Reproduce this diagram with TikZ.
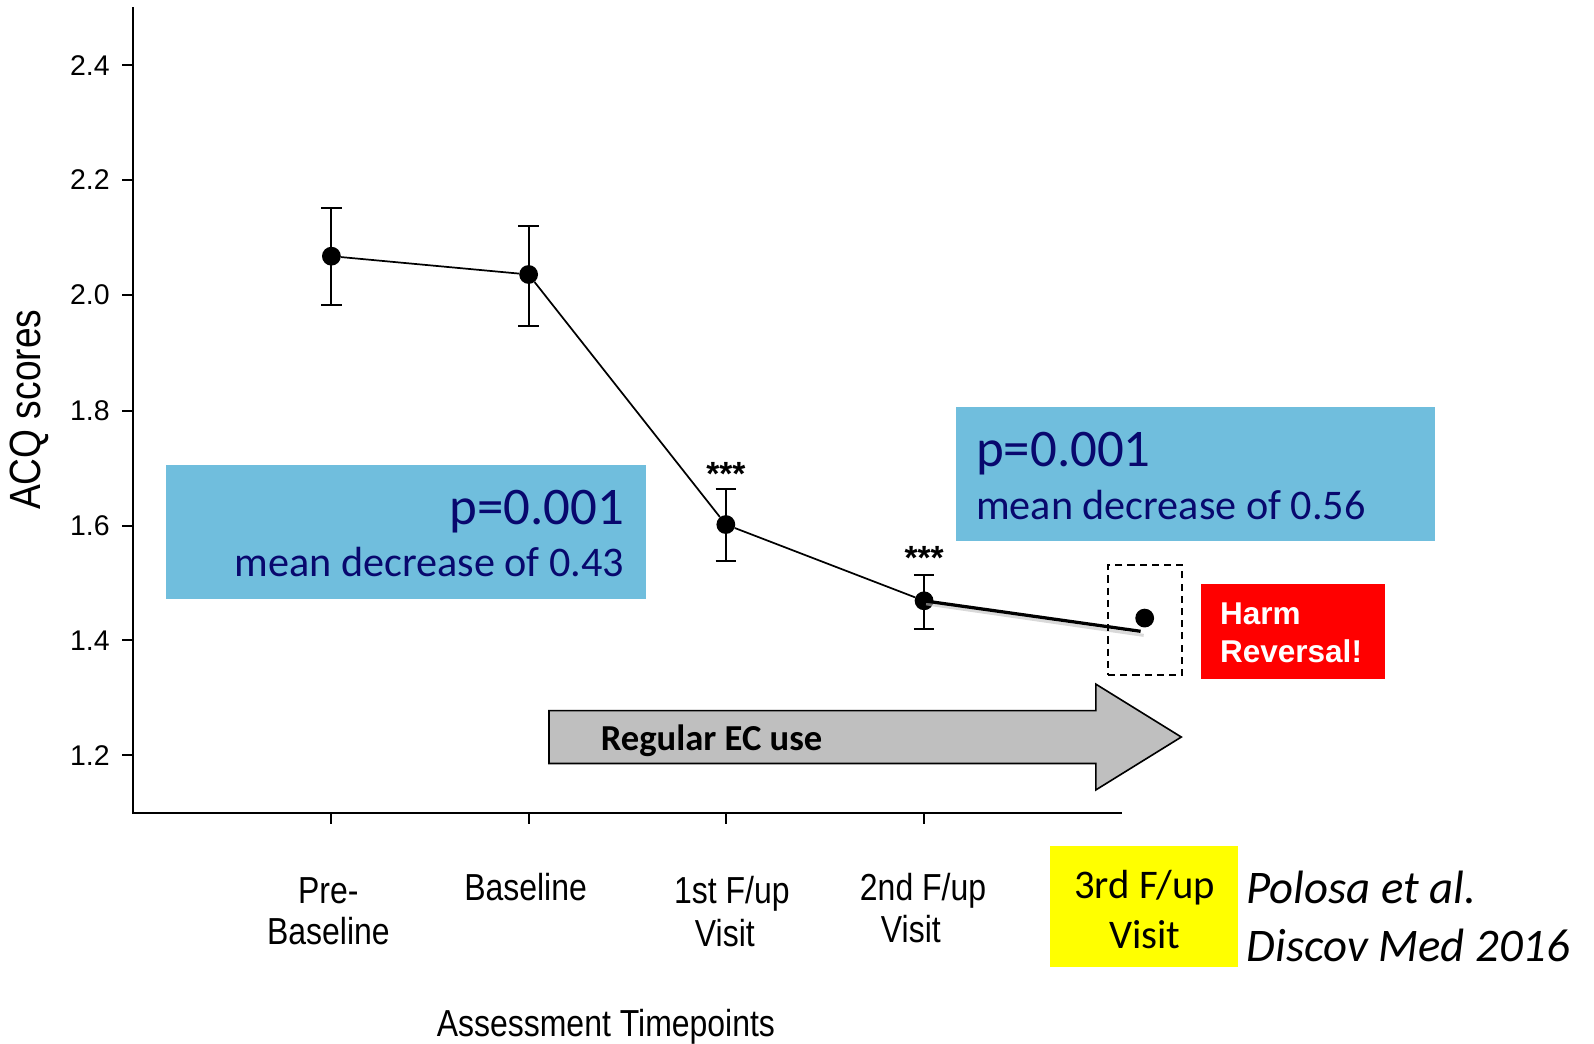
\documentclass[tikz,border=0pt]{standalone}
\usepackage{fontspec}
\setmainfont{Liberation Sans}
\newfontfamily\narrowf[FakeStretch=0.85]{Liberation Sans}
\newfontfamily\calib{Carlito}
\usetikzlibrary{calc}
\definecolor{boxblue}{RGB}{112,190,221}
\definecolor{navytext}{RGB}{8,8,110}
\definecolor{arrowgray}{RGB}{191,191,191}
\definecolor{hlyellow}{RGB}{255,255,0}
\definecolor{harmred}{RGB}{255,0,0}
\begin{document}
\begin{tikzpicture}[x=1pt,y=-1pt,
  axisline/.style={line width=2pt, line cap=rect},
  errbar/.style={line width=1.8pt},
  dataline/.style={line width=1.7pt},
  datapt/.style={circle, fill=black, inner sep=0pt, minimum size=18.5pt},
  ticklab/.style={font=\fontsize{28}{30}\selectfont, inner sep=0pt, anchor=east},
  xlab/.style={font=\narrowf\fontsize{37}{40}\selectfont, inner sep=0pt, anchor=base},
  stars/.style={font=\bfseries\fontsize{33}{35}\selectfont, inner sep=0pt, anchor=base},
  bigp/.style={font=\calib\fontsize{52}{56}\selectfont, text=navytext, inner sep=0pt},
  meanlab/.style={font=\calib\fontsize{41.5}{44}\selectfont, text=navytext, inner sep=0pt},
  harmlab/.style={font=\bfseries\fontsize{31}{34}\selectfont, text=white, inner sep=0pt, anchor=base west},
]
\useasboundingbox (0,0) rectangle (1568,1026);

% coloured boxes
\fill[boxblue] (163,457) rectangle (635,589);
\fill[boxblue] (940,400) rectangle (1412,532);
\fill[hlyellow] (1033,832) rectangle (1218,951);
\fill[harmred] (1181,574) rectangle (1362,668);

% axes
\draw[axisline] (131,8) -- (131,800) -- (1103,800);
\foreach \y/\v [count=\i] in {64/2.4,177/2.2,290/2.0,404/1.8,517/1.6,630/1.4,743/1.2} {
  \draw[axisline] (121,\y) -- (131,\y);
  \node[ticklab] (tk\i) at (108,\y) {\v};
}
\foreach \x [count=\i] in {326,520,714,909} {
  \draw[axisline] (\x,800) -- (\x,810);
}

% error bars
\foreach \x/\a/\b in {326/205/300, 520/222/321, 714/481/552, 909/566/619} {
  \draw[errbar] (\x,\a) -- (\x,\b);
  \draw[errbar] (\x-10,\a) -- (\x+10,\a);
  \draw[errbar] (\x-10,\b) -- (\x+10,\b);
}

% data points
\node[datapt] (p1) at (326,252) {};
\node[datapt] (p2) at (520,270) {};
\node[datapt] (p3) at (714,516) {};
\node[datapt] (p4) at (909,591) {};
\node[datapt] (p5) at (1126,608) {};
\draw[dataline] (p1) -- (p2) -- (p3) -- (p4);
\coordinate (pend) at (1122,621);
\draw[line width=3pt, black!25, opacity=0.6] ($(p4.center)+(2,3)$) -- ($(pend)+(3,4)$);
\draw[line width=3.2pt] (p4.center) -- (pend);

% dashed box
\node[draw, dashed, dash pattern=on 7pt off 5pt, line width=1.6pt, minimum width=73pt, minimum height=108pt, inner sep=0pt] (dbox) at (1126.5,610) {};

% significance stars
\node[stars] (s3) at (714,478) {***};
\node[stars] (s4) at (909,560) {***};

% p-value boxes text
\node[bigp, anchor=base east] (pl) at (614,516) {p=0.001};
\node[meanlab, anchor=base east] (ml) at (614,567) {mean decrease of 0.43};
\node[bigp, anchor=base west] (pr) at (960,459) {p=0.001};
\node[meanlab, anchor=base west] (mr) at (960,511) {mean decrease of 0.56};

% harm reversal
\node[harmlab] (h1) at (1200,614) {Harm};
\node[harmlab] (h2) at (1200,652) {Reversal!};

% arrow
\draw[line width=1.6pt, fill=arrowgray, line join=miter] (540,699) -- (1078,699) -- (1078,673) -- (1162,725) -- (1078,777) -- (1078,751) -- (540,751) -- cycle;
\node[font=\calib\bfseries\fontsize{36}{40}\selectfont, inner sep=0pt, anchor=base] (ec) at (700,738) {Regular EC use};

% x labels
\node[xlab] (x1a) at (323,889) {Pre-};
\node[xlab] (x1b) at (323,929) {Baseline};
\node[xlab] (x2) at (517,886) {Baseline};
\node[xlab] (x3a) at (720,889) {1st F/up};
\node[xlab] (x3b) at (713,931) {Visit};
\node[xlab] (x4a) at (908,886) {2nd F/up};
\node[xlab] (x4b) at (896,927) {Visit};
\node[font=\calib\fontsize{40}{44}\selectfont, inner sep=0pt, anchor=base] (x5a) at (1126,884) {3rd F/up};
\node[font=\calib\fontsize{40}{44}\selectfont, inner sep=0pt, anchor=base] (x5b) at (1126,933) {Visit};
\node[xlab] (xt) at (596,1020) {Assessment Timepoints};
\node[font=\narrowf\fontsize{43}{46}\selectfont, inner sep=0pt, anchor=base, rotate=90] (yt) at (40,403) {ACQ scores};

% citation
\node[font=\calib\itshape\fontsize{46}{50}\selectfont, inner sep=0pt, anchor=base west] (c1) at (1226,889) {Polosa et al.};
\node[font=\calib\itshape\fontsize{46}{50}\selectfont, inner sep=0pt, anchor=base west] (c2) at (1226,946) {Discov Med 2016};
\end{tikzpicture}
\end{document}
